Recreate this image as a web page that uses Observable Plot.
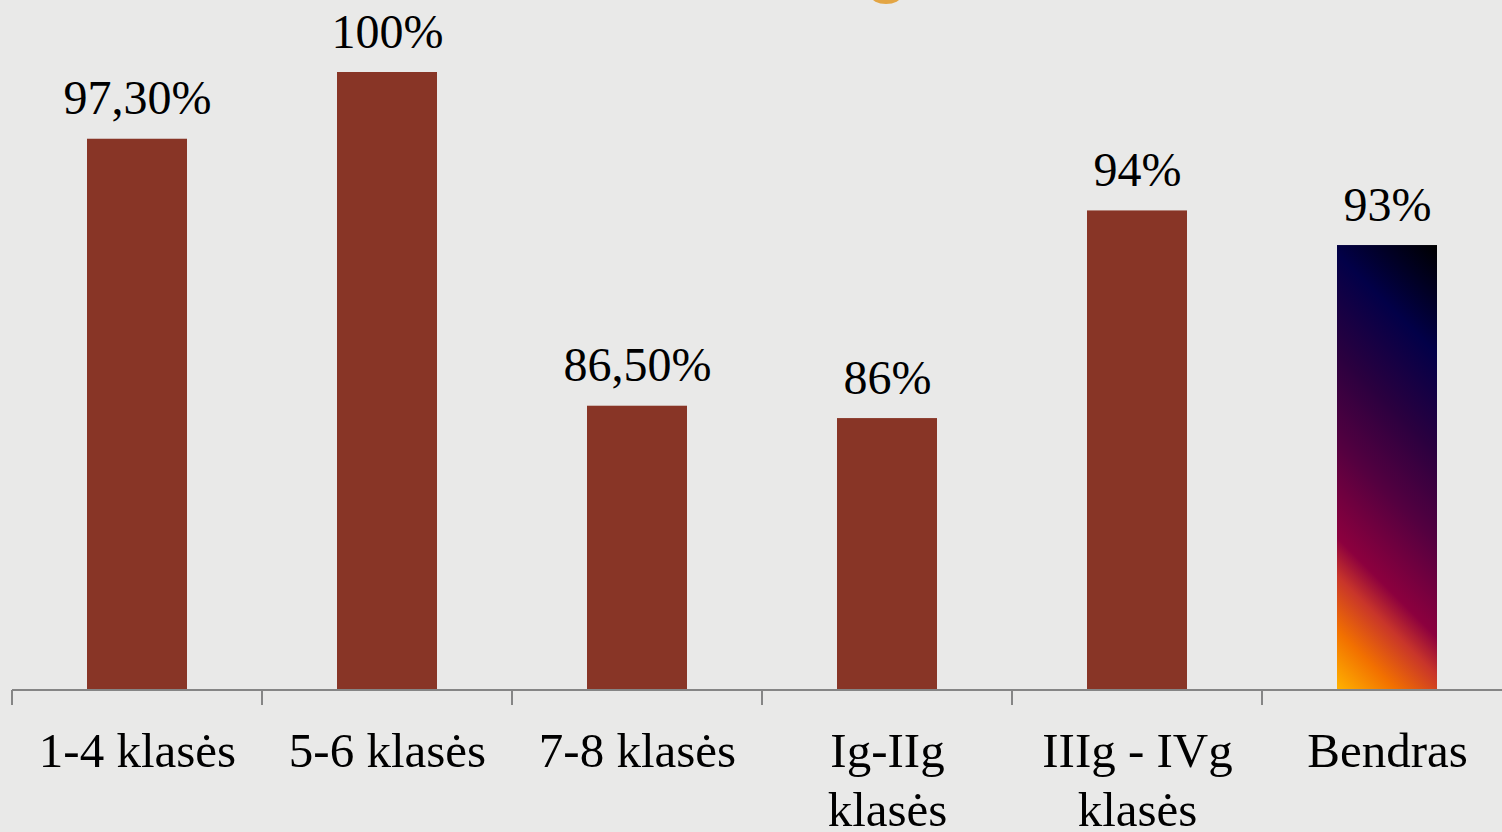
<!DOCTYPE html>
<html>
<head>
<meta charset="utf-8">
<script src="https://cdn.jsdelivr.net/npm/d3@7"></script>
<script src="https://cdn.jsdelivr.net/npm/@observablehq/plot@0.6"></script>
<style>
html, body { margin: 0; padding: 0; background: #e9e9e8; }
#chart { position: relative; width: 1502px; height: 832px; overflow: hidden; background: #e9e9e8; }
#chart svg { position: absolute; left: 0; top: 0; }
.sun { position: absolute; left: 871px; top: -12px; width: 30px; height: 16px; border-radius: 50%; background: #e3a544; z-index: 2; }
</style>
</head>
<body>
<div id="chart"><div class="sun"></div></div>
<script>
const categories = ["1-4 klasės", "5-6 klasės", "7-8 klasės", "Ig-IIg klasės", "IIIg - IVg klasės", "Bendras"];
const tickLabels = ["1-4 klasės", "5-6 klasės", "7-8 klasės", "Ig-IIg\nklasės", "IIIg - IVg\nklasės", "Bendras"];
const values = [97.3, 100, 86.5, 86, 94.4, 93];
const valueLabels = ["97,30%", "100%", "86,50%", "86%", "94%", "93%"];
const yDomain = [75, 100];
const highlighted = ["Bendras"];

const data = categories.map((c, i) => ({category: c, value: values[i], label: valueLabels[i], base: yDomain[0]}));
const tickMap = new Map(categories.map((c, i) => [c, tickLabels[i]]));

const FONT = "'Palatino Linotype', 'Book Antiqua', Palatino, 'Liberation Serif', serif";
const BAR = "#883526";

function gradientDefs() {
  const g = d3.create("svg:defs");
  const lg = g.append("linearGradient")
    .attr("id", "bendrasGrad")
    .attr("x1", 0).attr("y1", 1).attr("x2", 0.262).attr("y2", -0.166);
  const stops = [
    [0, "#ffb300"], [0.11, "#f27000"], [0.21, "#c8352a"], [0.28, "#8c003e"],
    [0.46, "#520040"], [0.62, "#2a003f"], [0.8, "#020048"], [1, "#000000"]
  ];
  for (const [o, c] of stops) lg.append("stop").attr("offset", o).attr("stop-color", c);
  return g.node();
}

function baseAxis(index, scales, values, dims) {
  const x = scales.x, y = scales.y;
  const starts = categories.map(c => x(c));
  const step = starts[1] - starts[0];
  const bw = x.bandwidth ? x.bandwidth() : step * 0.4;
  const half = (step - bw) / 2;
  const bounds = starts.map(s => s - half);
  bounds.push(starts[starts.length - 1] + bw + half);
  const y0 = y(yDomain[0]);
  const g = d3.create("svg:g").attr("stroke", "#858585").attr("fill", "none");
  g.append("line").attr("x1", bounds[0]).attr("x2", dims.width).attr("y1", y0).attr("y2", y0).attr("stroke-width", 2);
  for (const b of bounds) {
    g.append("line").attr("x1", b).attr("x2", b).attr("y1", y0).attr("y2", y0 + 15).attr("stroke-width", 2);
  }
  return g.node();
}

const plot = Plot.plot({
  width: 1502,
  height: 832,
  marginLeft: 12,
  marginRight: 0,
  marginTop: 72,
  marginBottom: 142,
  style: {background: "transparent", color: "#000", fontFamily: FONT},
  x: {type: "band", domain: categories, range: [12, 1512], paddingInner: 0.6, paddingOuter: 0.3, label: null},
  y: {domain: yDomain, axis: null},
  marks: [
    gradientDefs,
    Plot.barY(data.filter(d => !highlighted.includes(d.category)), {x: "category", y1: "base", y2: "value", fill: BAR}),
    Plot.barY(data.filter(d => highlighted.includes(d.category)), {x: "category", y1: "base", y2: "value", fill: "url(#bendrasGrad)"}),
    baseAxis,
    Plot.text(data, {x: "category", y: "value", text: "label", dy: -25, lineAnchor: "bottom", fontSize: 48, fill: "#000", fontFamily: FONT}),
    Plot.axisX({tickSize: 0, tickPadding: 35, fontSize: 49, lineHeight: 1.2, lineAnchor: "top", tickFormat: d => tickMap.get(d), fontFamily: FONT, fill: "#000", label: null})
  ]
});
document.getElementById("chart").appendChild(plot);
</script>
</body>
</html>
